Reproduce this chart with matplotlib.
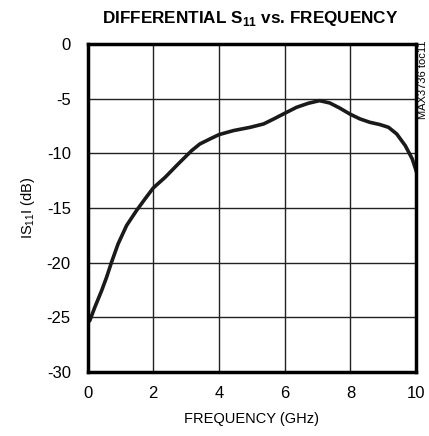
import numpy as np
import matplotlib
matplotlib.use("Agg")
import matplotlib.pyplot as plt

plt.rcParams['font.family'] = ['Liberation Sans', 'DejaVu Sans']
plt.rcParams['mathtext.fontset'] = 'custom'
plt.rcParams['mathtext.rm'] = 'Liberation Sans'
plt.rcParams['mathtext.bf'] = 'Liberation Sans:bold'

freq = [0.0, 0.07, 0.22, 0.43, 0.58, 0.73, 0.93, 1.19, 1.49, 1.75, 2.0, 2.36, 2.76, 3.17,
        3.42, 3.73, 4.0, 4.44, 4.95, 5.36, 5.67, 6.0, 6.36, 6.72, 7.06, 7.37, 7.67, 7.98,
        8.29, 8.59, 8.9, 9.16, 9.41, 9.67, 9.88, 10.0]
s11 = [-25.5, -25.3, -24.1, -22.56, -21.34, -19.97, -18.29, -16.6, -15.24, -14.17, -13.17,
       -12.2, -10.97, -9.75, -9.14, -8.68, -8.29, -7.92, -7.62, -7.31, -6.85, -6.34, -5.79,
       -5.42, -5.18, -5.39, -5.85, -6.4, -6.85, -7.16, -7.37, -7.62, -8.23, -9.3, -10.5, -11.6]

xticks = [0, 2, 4, 6, 8, 10]
yticks = [0, -5, -10, -15, -20, -25, -30]

fig = plt.figure(figsize=(4.29, 4.36), dpi=100)
ax = fig.add_axes([0.204, 0.147, 0.766, 0.752])

ax.plot(freq, s11, color='#1a1a1a', lw=2.6, solid_joinstyle='round')

ax.set_xlim(0, 10)
ax.set_ylim(-30, 0)
ax.set_xticks(xticks)
ax.set_yticks(yticks)
ax.set_yticklabels([str(v) for v in yticks])
ax.grid(True, color='#222222', lw=1.0)
ax.tick_params(length=0, labelsize=12)
ax.tick_params(axis='x', pad=10)
ax.tick_params(axis='y', pad=12)
for sp in ax.spines.values():
    sp.set_linewidth(2.5)

ax.set_xlabel('FREQUENCY (GHz)', fontsize=10.5, labelpad=8)
ax.set_ylabel(r'IS$_{11}$I (dB)', fontsize=10.5, labelpad=7)
fig.text(0.584, 0.958, r'DIFFERENTIAL S$_{\mathbf{11}}$ vs. FREQUENCY', ha='center', va='center',
         fontsize=12.3, fontweight='bold')
fig.text(0.986, 0.816, 'MAX3736 toc11', rotation=90, ha='center', va='center', fontsize=8)

fig.savefig('out.png', dpi=100)
